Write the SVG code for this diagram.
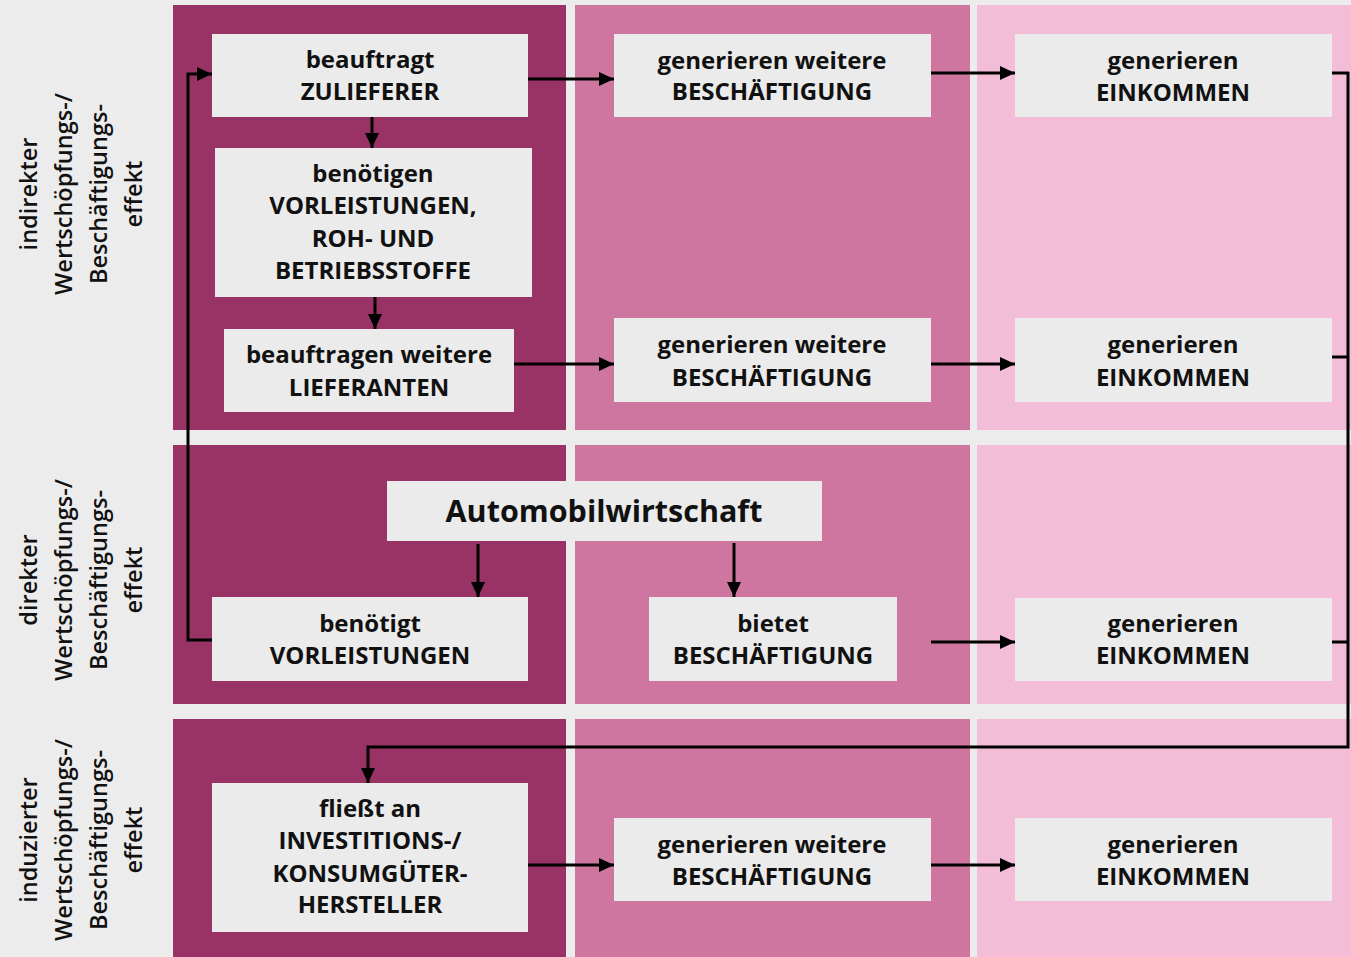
<svg xmlns="http://www.w3.org/2000/svg" width="1351" height="957" viewBox="0 0 1351 957">
  <style>
    .bg { fill: #ececec; }
    .c1 { fill: #993366; }
    .c2 { fill: #cf76a0; }
    .c3 { fill: #f3bcd7; }
    .box { fill: #ebebeb; }
    .t { font-family: "Open Sans", "Liberation Sans", sans-serif; font-weight: 700; font-size: 24px; fill: #111; text-anchor: middle; }
    .big { font-size: 30.5px; }
    .side { font-family: "Open Sans", "Liberation Sans", sans-serif; font-weight: 600; font-size: 23.5px; fill: #111; text-anchor: middle; }
    .ln { fill: none; stroke: #000; stroke-width: 3; }
    .arr { marker-end: url(#ah); }
  </style>
  <defs>
    <marker id="ah" markerUnits="userSpaceOnUse" markerWidth="16" markerHeight="14" refX="15" refY="7" orient="auto">
      <path d="M0,0 L15,7 L0,14 Z" fill="#000"/>
    </marker>
  </defs>

  <!-- background and column bands -->
  <rect class="bg" x="0" y="0" width="1351" height="957"/>
  <g id="bands">
    <rect class="c1" x="173" y="5" width="393" height="425"/>
    <rect class="c2" x="575" y="5" width="395" height="425"/>
    <rect class="c3" x="977" y="5" width="374" height="425"/>
    <rect class="c1" x="173" y="445" width="393" height="259"/>
    <rect class="c2" x="575" y="445" width="395" height="259"/>
    <rect class="c3" x="977" y="445" width="374" height="259"/>
    <rect class="c1" x="173" y="719" width="393" height="238"/>
    <rect class="c2" x="575" y="719" width="395" height="238"/>
    <rect class="c3" x="977" y="719" width="374" height="238"/>
  </g>

  <!-- row labels -->
  <g id="label-indirekt" transform="translate(0,194)">
    <text class="side" transform="translate(37,0) rotate(-90)">indirekter</text>
    <text class="side" transform="translate(72,0) rotate(-90)">Wertschöpfungs-/</text>
    <text class="side" transform="translate(107,0) rotate(-90)">Beschäftigungs-</text>
    <text class="side" transform="translate(142,0) rotate(-90)">effekt</text>
  </g>
  <g id="label-direkt" transform="translate(0,580)">
    <text class="side" transform="translate(37,0) rotate(-90)">direkter</text>
    <text class="side" transform="translate(72,0) rotate(-90)">Wertschöpfungs-/</text>
    <text class="side" transform="translate(107,0) rotate(-90)">Beschäftigungs-</text>
    <text class="side" transform="translate(142,0) rotate(-90)">effekt</text>
  </g>
  <g id="label-induziert" transform="translate(0,840)">
    <text class="side" transform="translate(37,0) rotate(-90)">induzierter</text>
    <text class="side" transform="translate(72,0) rotate(-90)">Wertschöpfungs-/</text>
    <text class="side" transform="translate(107,0) rotate(-90)">Beschäftigungs-</text>
    <text class="side" transform="translate(142,0) rotate(-90)">effekt</text>
  </g>

  <!-- connectors -->
  <g id="connectors">
    <polyline class="ln arr" points="212,640 188,640 188,74 212,74"/>
    <line class="ln arr" x1="372" y1="117" x2="372" y2="148"/>
    <line class="ln arr" x1="375" y1="297" x2="375" y2="329"/>
    <line class="ln arr" x1="528" y1="79" x2="614" y2="79"/>
    <line class="ln arr" x1="931" y1="73" x2="1015" y2="73"/>
    <line class="ln arr" x1="514" y1="364" x2="614" y2="364"/>
    <line class="ln arr" x1="931" y1="364" x2="1015" y2="364"/>
    <line class="ln arr" x1="478" y1="544" x2="478" y2="597"/>
    <line class="ln arr" x1="734" y1="543" x2="734" y2="597"/>
    <line class="ln arr" x1="931" y1="642" x2="1015" y2="642"/>
    <line class="ln arr" x1="528" y1="865" x2="614" y2="865"/>
    <line class="ln arr" x1="931" y1="865" x2="1015" y2="865"/>
    <line class="ln" x1="1332" y1="73" x2="1349" y2="73"/>
    <line class="ln" x1="1332" y1="357" x2="1349" y2="357"/>
    <line class="ln" x1="1332" y1="642" x2="1349" y2="642"/>
    <polyline class="ln arr" points="1348,72 1348,747 368,747 368,783"/>
  </g>

  <!-- nodes -->
  <g id="n-zulieferer">
    <rect class="box" x="212" y="34" width="316" height="83"/>
    <text class="t" x="370" y="68">beauftragt</text>
    <text class="t" x="370" y="100">ZULIEFERER</text>
  </g>
  <g id="n-vorleistungen-roh">
    <rect class="box" x="215" y="148" width="317" height="149"/>
    <text class="t" x="373" y="182">benötigen</text>
    <text class="t" x="373" y="214">VORLEISTUNGEN,</text>
    <text class="t" x="373" y="247">ROH- UND</text>
    <text class="t" x="373" y="279">BETRIEBSSTOFFE</text>
  </g>
  <g id="n-lieferanten">
    <rect class="box" x="224" y="329" width="290" height="83"/>
    <text class="t" x="369" y="363">beauftragen weitere</text>
    <text class="t" x="369" y="396">LIEFERANTEN</text>
  </g>
  <g id="n-beschaeftigung-1">
    <rect class="box" x="614" y="34" width="317" height="83"/>
    <text class="t" x="772" y="69">generieren weitere</text>
    <text class="t" x="772" y="100">BESCHÄFTIGUNG</text>
  </g>
  <g id="n-einkommen-1">
    <rect class="box" x="1015" y="34" width="317" height="83"/>
    <text class="t" x="1173" y="69">generieren</text>
    <text class="t" x="1173" y="101">EINKOMMEN</text>
  </g>
  <g id="n-beschaeftigung-2">
    <rect class="box" x="614" y="318" width="317" height="84"/>
    <text class="t" x="772" y="353">generieren weitere</text>
    <text class="t" x="772" y="386">BESCHÄFTIGUNG</text>
  </g>
  <g id="n-einkommen-2">
    <rect class="box" x="1015" y="318" width="317" height="84"/>
    <text class="t" x="1173" y="353">generieren</text>
    <text class="t" x="1173" y="386">EINKOMMEN</text>
  </g>
  <g id="n-automobil">
    <rect class="box" x="387" y="481" width="435" height="60"/>
    <text class="t big" x="604" y="522">Automobilwirtschaft</text>
  </g>
  <g id="n-benoetigt">
    <rect class="box" x="212" y="597" width="316" height="84"/>
    <text class="t" x="370" y="632">benötigt</text>
    <text class="t" x="370" y="664">VORLEISTUNGEN</text>
  </g>
  <g id="n-bietet">
    <rect class="box" x="649" y="597" width="248" height="84"/>
    <text class="t" x="773" y="632">bietet</text>
    <text class="t" x="773" y="664">BESCHÄFTIGUNG</text>
  </g>
  <g id="n-einkommen-3">
    <rect class="box" x="1015" y="598" width="317" height="83"/>
    <text class="t" x="1173" y="632">generieren</text>
    <text class="t" x="1173" y="664">EINKOMMEN</text>
  </g>
  <g id="n-hersteller">
    <rect class="box" x="212" y="783" width="316" height="149"/>
    <text class="t" x="370" y="817">fließt an</text>
    <text class="t" x="370" y="849">INVESTITIONS-/</text>
    <text class="t" x="370" y="882">KONSUMGÜTER-</text>
    <text class="t" x="370" y="913">HERSTELLER</text>
  </g>
  <g id="n-beschaeftigung-3">
    <rect class="box" x="614" y="818" width="317" height="83"/>
    <text class="t" x="772" y="853">generieren weitere</text>
    <text class="t" x="772" y="885">BESCHÄFTIGUNG</text>
  </g>
  <g id="n-einkommen-4">
    <rect class="box" x="1015" y="818" width="317" height="83"/>
    <text class="t" x="1173" y="853">generieren</text>
    <text class="t" x="1173" y="885">EINKOMMEN</text>
  </g>
</svg>
